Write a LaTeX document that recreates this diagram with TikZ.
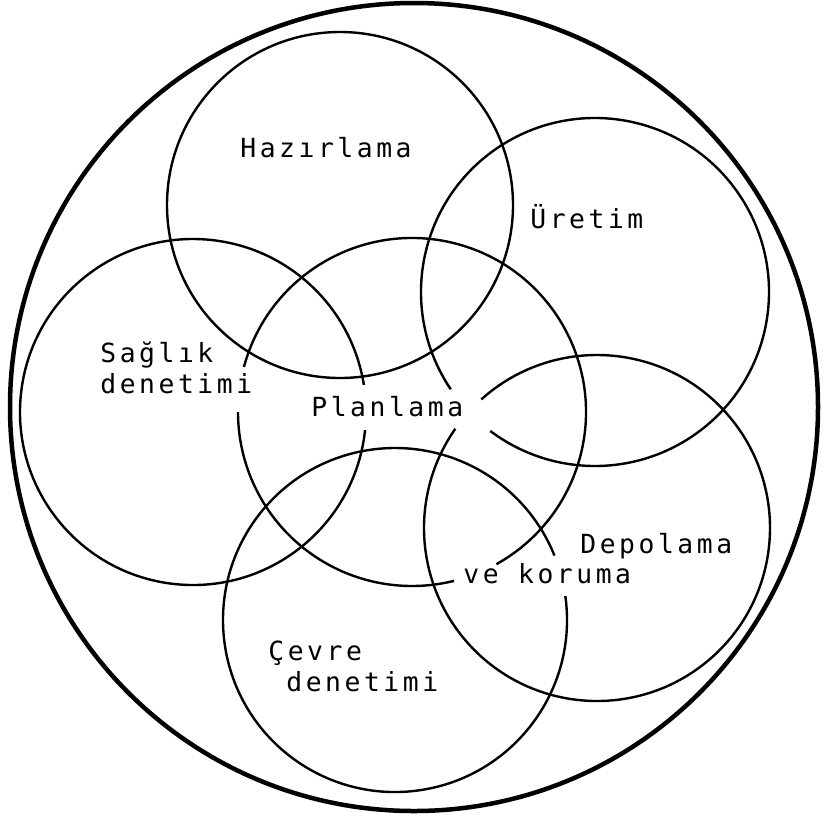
\documentclass[tikz,border=0pt]{standalone}
\usepackage{fontspec}
\newfontfamily\typefont[LetterSpace=13.5]{DejaVu Sans Mono}
\usepackage{tikz}

\begin{document}
\begin{tikzpicture}[x=0.2mm, y=-0.2mm,
				ring/.style={line width=0.48mm},  %innere Kreise
				rim/.style={line width=0.9mm},   %aeusserer Kreis
				lbl/.style={anchor=base west, inner sep=0pt},
				font=\typefont\fontsize{15}{18}\selectfont]
				%Bildbereich
				\useasboundingbox (0,0) rectangle (824,816);
				% Mittelpunkte
				\coordinate (big) at (414,407);
				\coordinate (hz) at (340,205);
				\coordinate (ur) at (595,292);
				\coordinate (sg) at (193,412);
				\coordinate (pl) at (412,412);
				\coordinate (dp) at (597,528);
				\coordinate (cv) at (395,620);
				% Kreise zeichnen
				\draw[rim] (big) circle[radius=404];
				\draw[ring] (hz) circle[radius=173];
				% Kreise mit Luecken fuer die Texte
				\foreach \c/\r/\a/\b in {sg/173/6/351, ur/174/146/487, pl/174/195/421, pl/174/436/540, dp/173/228/575, cv/172/-8/338}
					\draw[ring] (\c) ++(\a:\r) arc[start angle=\a, end angle=\b, radius=\r];
				% Beschriftung
				\node[lbl] (hazirlama) at (240,157) {Hazırlama};
				\node[lbl] (uretim) at (530,228) {Üretim};
				\node[lbl] (saglik1) at (100,362) {Sağlık};
				\node[lbl] (saglik2) at (100,393) {denetimi};
				\node[lbl] (planlama) at (311,416) {Planlama};
				\node[lbl] (depolama1) at (580,553) {Depolama};
				\node[lbl] (depolama2) at (463,583) {ve koruma};
				\node[lbl] (cevre1) at (268,660) {Çevre};
				\node[lbl] (cevre2) at (286,691) {denetimi};
\end{tikzpicture}
\end{document}
